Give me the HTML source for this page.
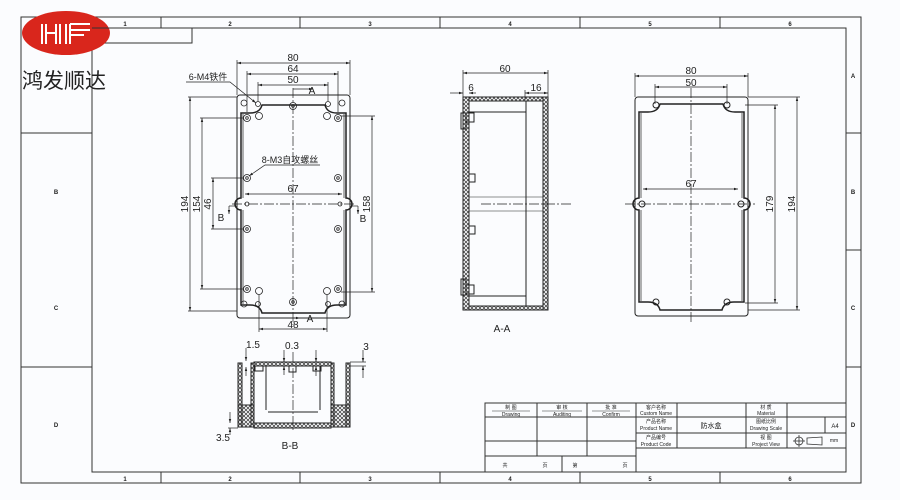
<!DOCTYPE html>
<html><head><meta charset="utf-8"><style>
html,body{margin:0;padding:0;background:#fbfcfe;}
svg{display:block;}
text{font-family:"Liberation Sans","Noto Sans CJK SC",sans-serif;fill:#222;}
</style></head><body>
<svg width="900" height="500" viewBox="0 0 900 500" xmlns="http://www.w3.org/2000/svg">
<defs>
<marker id="ar" viewBox="0 0 10 10" refX="10" refY="5" markerWidth="6" markerHeight="6" orient="auto-start-reverse"><path d="M0,2 L10,5 L0,8 z" fill="#222"/></marker>
<pattern id="xx" width="4" height="4" patternUnits="userSpaceOnUse"><path d="M0,0 L4,4 M4,0 L0,4" stroke="#333" stroke-width="0.7"/></pattern>
</defs>
<rect width="900" height="500" fill="#fbfcfe"/>
<g stroke="#333" fill="none" stroke-width="1">
<!-- frames -->
<rect x="21" y="17" width="840" height="466"/>
<rect x="92" y="28" width="754" height="444"/>
<line x1="92" y1="28" x2="92" y2="17"/>
<line x1="161" y1="17" x2="161" y2="28"/><line x1="300" y1="17" x2="300" y2="28"/><line x1="440" y1="17" x2="440" y2="28"/><line x1="580" y1="17" x2="580" y2="28"/><line x1="720" y1="17" x2="720" y2="28"/>
<line x1="161" y1="472" x2="161" y2="483"/><line x1="300" y1="472" x2="300" y2="483"/><line x1="440" y1="472" x2="440" y2="483"/><line x1="580" y1="472" x2="580" y2="483"/><line x1="720" y1="472" x2="720" y2="483"/>
<line x1="21" y1="133" x2="92" y2="133"/><line x1="21" y1="367" x2="92" y2="367"/><line x1="21" y1="250" x2="21" y2="250"/>
<line x1="846" y1="133" x2="861" y2="133"/><line x1="846" y1="250" x2="861" y2="250"/><line x1="846" y1="367" x2="861" y2="367"/>
<polyline points="92,43 192,43 192,28"/>
<!-- title block -->
<rect x="485" y="403" width="361" height="69"/>
<line x1="485" y1="417" x2="846" y2="417"/>
<line x1="485" y1="441" x2="636" y2="441"/>
<line x1="485" y1="456" x2="636" y2="456"/>
<line x1="636" y1="433" x2="846" y2="433"/>
<line x1="636" y1="448" x2="846" y2="448"/>
<line x1="537" y1="403" x2="537" y2="456"/><line x1="587" y1="403" x2="587" y2="456"/>
<line x1="562" y1="456" x2="562" y2="472"/><line x1="636" y1="403" x2="636" y2="472"/>
<line x1="677" y1="403" x2="677" y2="448"/><line x1="746" y1="403" x2="746" y2="448"/><line x1="787" y1="403" x2="787" y2="448"/><line x1="825" y1="417" x2="825" y2="433"/>
<line x1="492" y1="411" x2="530" y2="411" stroke-width="0.6"/><line x1="542" y1="411" x2="582" y2="411" stroke-width="0.6"/><line x1="592" y1="411" x2="630" y2="411" stroke-width="0.6"/>
</g>
<g font-size="6" text-anchor="middle" font-weight="bold">
<text x="125" y="26">1</text><text x="230" y="26">2</text><text x="370" y="26">3</text><text x="510" y="26">4</text><text x="650" y="26">5</text><text x="790" y="26">6</text>
<text x="125" y="481">1</text><text x="230" y="481">2</text><text x="370" y="481">3</text><text x="510" y="481">4</text><text x="650" y="481">5</text><text x="790" y="481">6</text>
<text x="56" y="194">B</text><text x="56" y="310">C</text><text x="56" y="427">D</text>
<text x="853" y="78">A</text><text x="853" y="194">B</text><text x="853" y="310">C</text><text x="853" y="427">D</text>
</g>
<g font-size="5" text-anchor="middle">
<text x="511" y="409">制 图</text><text x="511" y="416">Drawing</text>
<text x="562" y="409">审 核</text><text x="562" y="416">Auditing</text>
<text x="611" y="409">批 准</text><text x="611" y="416">Confirm</text>
<text x="656" y="409">客户名称</text><text x="656" y="415">Custom Name</text>
<text x="656" y="423">产品名称</text><text x="656" y="430">Product Name</text>
<text x="656" y="439">产品编号</text><text x="656" y="446">Product Code</text>
<text x="766" y="409">材 质</text><text x="766" y="415">Material</text>
<text x="766" y="423">图纸比例</text><text x="766" y="430">Drawing Scale</text>
<text x="766" y="439">视 图</text><text x="766" y="446">Project View</text>
<text x="711" y="428" font-size="7">防水盒</text>
<text x="835" y="428" font-size="6">A4</text>
<text x="834" y="442">mm</text>
<text x="505" y="467">共</text><text x="545" y="467">页</text><text x="575" y="467">第</text><text x="625" y="467">页</text>
</g>
<g stroke="#333" fill="none" stroke-width="0.8"><circle cx="799" cy="441" r="4"/><line x1="793" y1="441" x2="805" y2="441"/><line x1="799" y1="435" x2="799" y2="447"/><path d="M807,438 L822,437 L822,445 L807,444 z"/></g>
<!-- logo -->
<ellipse cx="66" cy="33" rx="44" ry="22" fill="#d9261c"/>
<g stroke="#fff" stroke-width="2" fill="none"><path d="M42,24 v20 M46,24 v20 M46,33 h10 M56,24 v20 M60,24 v20 M66,24 v20 M70,24 v20 M70,24 h20 M70,30 h20 M70,35 h14"/></g>
<line x1="92" y1="28" x2="110" y2="28" stroke="#333"/>
<text x="22" y="88" font-size="21" font-family="Liberation Sans,'Noto Sans CJK SC',sans-serif">鸿发顺达</text>

<!-- FRONT VIEW -->
<g stroke="#222" fill="none" stroke-width="1">
<rect x="237" y="95" width="113" height="223" rx="3"/>
<path d="M241,113 L241,198 a6,6 0 0 0 0,12 L241,305 L250,305 q10,0 12,8 L325,313 q2,-8 12,-8 L346,305 L346,210 a6,6 0 0 0 0,-12 L346,113 L337,113 q-10,0 -12,-8 L262,105 q-2,8 -12,8 z" stroke-width="1.5"/>
<path d="M243,114 L243,198 M344,114 L344,198 M243,210 L243,304 M344,210 L344,304" stroke-width="0.7"/>
</g>
<g stroke="#222" fill="none" stroke-width="0.8">
<circle cx="293" cy="106" r="3.5"/><circle cx="293" cy="106" r="1.3"/>
<circle cx="293" cy="302" r="3.5"/><circle cx="293" cy="302" r="1.3"/>
<circle cx="247" cy="118" r="3.5"/><circle cx="338" cy="118" r="3.5"/><circle cx="247" cy="178" r="3.5"/><circle cx="338" cy="178" r="3.5"/>
<circle cx="247" cy="229" r="3.5"/><circle cx="338" cy="229" r="3.5"/><circle cx="247" cy="289" r="3.5"/><circle cx="338" cy="289" r="3.5"/>
<circle cx="247" cy="118" r="1.3"/><circle cx="338" cy="118" r="1.3"/><circle cx="247" cy="178" r="1.3"/><circle cx="338" cy="178" r="1.3"/>
<circle cx="247" cy="229" r="1.3"/><circle cx="338" cy="229" r="1.3"/><circle cx="247" cy="289" r="1.3"/><circle cx="338" cy="289" r="1.3"/>
<circle cx="259" cy="116" r="3.5"/><circle cx="327" cy="116" r="3.5"/><circle cx="259" cy="291" r="3.5"/><circle cx="327" cy="291" r="3.5"/>
<circle cx="244" cy="103" r="3"/><circle cx="342" cy="103" r="3"/><circle cx="244" cy="304" r="3"/><circle cx="342" cy="304" r="3"/>
<circle cx="258" cy="104" r="2.5"/><circle cx="328" cy="104" r="2.5"/><circle cx="258" cy="304" r="2.5"/><circle cx="328" cy="304" r="2.5"/>
<circle cx="247" cy="204" r="2"/><circle cx="340" cy="204" r="2"/>
</g>
<g stroke="#222" stroke-width="0.7" fill="none" stroke-dasharray="10,2,2,2">
<line x1="293" y1="88" x2="293" y2="325"/><line x1="232" y1="204" x2="355" y2="204"/>
<line x1="481" y1="204" x2="572" y2="204"/>
<line x1="691" y1="88" x2="691" y2="322"/><line x1="625" y1="204" x2="755" y2="204"/>
<line x1="293" y1="352" x2="293" y2="432"/>
</g>
<g stroke="#222" stroke-width="0.7" fill="none">
<!-- front dims -->
<line x1="237" y1="63" x2="350" y2="63" marker-start="url(#ar)" marker-end="url(#ar)"/>
<line x1="247" y1="74" x2="338" y2="74" marker-start="url(#ar)" marker-end="url(#ar)"/>
<line x1="258" y1="85" x2="328" y2="85" marker-start="url(#ar)" marker-end="url(#ar)"/>
<line x1="237" y1="60" x2="237" y2="95"/><line x1="350" y1="60" x2="350" y2="95"/>
<line x1="247" y1="71" x2="247" y2="112"/><line x1="338" y1="71" x2="338" y2="112"/>
<line x1="258" y1="82" x2="258" y2="101"/><line x1="328" y1="82" x2="328" y2="101"/>
<line x1="293" y1="89" x2="313" y2="89" marker-end="url(#ar)"/>
<line x1="293" y1="318" x2="300" y2="318" marker-end="url(#ar)"/>
<line x1="190" y1="97" x2="190" y2="311" marker-start="url(#ar)" marker-end="url(#ar)"/>
<line x1="188" y1="97" x2="237" y2="97"/><line x1="188" y1="311" x2="237" y2="311"/>
<line x1="202" y1="118" x2="202" y2="289" marker-start="url(#ar)" marker-end="url(#ar)"/>
<line x1="200" y1="118" x2="244" y2="118"/><line x1="200" y1="289" x2="244" y2="289"/>
<line x1="213" y1="178" x2="213" y2="229" marker-start="url(#ar)" marker-end="url(#ar)"/>
<line x1="211" y1="178" x2="244" y2="178"/><line x1="211" y1="229" x2="244" y2="229"/>
<line x1="372" y1="116" x2="372" y2="292" marker-start="url(#ar)" marker-end="url(#ar)"/>
<line x1="341" y1="116" x2="375" y2="116"/><line x1="341" y1="292" x2="375" y2="292"/>
<line x1="245" y1="194" x2="342" y2="194" marker-start="url(#ar)" marker-end="url(#ar)"/>
<line x1="259" y1="329" x2="327" y2="329" marker-start="url(#ar)" marker-end="url(#ar)"/>
<line x1="259" y1="295" x2="259" y2="332"/><line x1="327" y1="295" x2="327" y2="332"/>
<line x1="229" y1="206" x2="229" y2="214" marker-end="url(#ar)"/><line x1="229" y1="206" x2="236" y2="206"/>
<line x1="358" y1="206" x2="358" y2="214" marker-end="url(#ar)"/><line x1="351" y1="206" x2="358" y2="206"/>
<polyline points="186,82 230,82 256,103" marker-end="url(#ar)"/>
<polyline points="320,165 265,165 249,176" marker-end="url(#ar)"/>
</g>
<g font-size="10" text-anchor="middle" font-family="Liberation Sans,sans-serif">
<text x="293" y="61">80</text><text x="293" y="72">64</text><text x="293" y="83">50</text>
<text x="312" y="94">A</text><text x="310" y="322">A</text>
<text x="293" y="192">67</text><text x="293" y="328">48</text>
<text x="221" y="221">B</text><text x="363" y="222">B</text>
<text x="208" y="80" font-size="9">6-M4铁件</text>
<text x="290" y="163" font-size="9">8-M3自攻螺丝</text>
<text transform="translate(188,204) rotate(-90)">194</text>
<text transform="translate(200,204) rotate(-90)">154</text>
<text transform="translate(211,204) rotate(-90)">46</text>
<text transform="translate(370,204) rotate(-90)">158</text>
</g>

<!-- SIDE VIEW A-A -->
<g stroke="#222" fill="none" stroke-width="1">
<rect x="463" y="97" width="6" height="213" fill="url(#xx)"/>
<rect x="543" y="97" width="5" height="213" fill="url(#xx)"/>
<rect x="469" y="97" width="74" height="4" fill="url(#xx)"/>
<rect x="469" y="306" width="74" height="4" fill="url(#xx)"/>
<line x1="526" y1="101" x2="526" y2="306"/>
<line x1="469" y1="112" x2="526" y2="112"/><line x1="469" y1="296" x2="526" y2="296"/>
<line x1="469" y1="197" x2="543" y2="197" stroke-width="0.6"/><line x1="469" y1="211" x2="543" y2="211" stroke-width="0.6"/>
<rect x="461" y="113" width="5" height="16"/><rect x="466" y="113" width="8" height="9"/>
<rect x="461" y="279" width="5" height="16"/><rect x="466" y="285" width="8" height="9"/>
<rect x="469" y="174" width="6" height="8"/><rect x="469" y="226" width="6" height="8"/>
</g>
<g stroke="#222" stroke-width="0.7" fill="none">
<line x1="463" y1="73" x2="548" y2="73" marker-start="url(#ar)" marker-end="url(#ar)"/>
<line x1="463" y1="70" x2="463" y2="97"/><line x1="548" y1="70" x2="548" y2="97"/>
<line x1="450" y1="93" x2="463" y2="93" marker-end="url(#ar)"/><line x1="476" y1="93" x2="469" y2="93" marker-end="url(#ar)"/>
<line x1="525" y1="93" x2="548" y2="93" marker-start="url(#ar)" marker-end="url(#ar)"/><line x1="525" y1="90" x2="525" y2="100"/>
</g>
<g font-size="10" text-anchor="middle">
<text x="505" y="72">60</text><text x="471" y="91">6</text><text x="536" y="91">16</text>
<text x="502" y="332">A-A</text>
</g>

<!-- RIGHT VIEW -->
<g stroke="#222" fill="none" stroke-width="1">
<rect x="635" y="97" width="113" height="219" rx="3"/>
<path d="M639,112 L639,198 a6,6 0 0 0 0,12 L639,302 L648,302 q10,0 12,8 L722,310 q2,-8 12,-8 L744,302 L744,210 a6,6 0 0 0 0,-12 L744,112 L735,112 q-10,0 -12,-8 L660,104 q-2,8 -12,8 z" stroke-width="1.5"/>
<path d="M641,113 L641,198 M742,113 L742,198 M641,210 L641,301 M742,210 L742,301" stroke-width="0.7"/>
<circle cx="656" cy="105" r="3"/><circle cx="727" cy="105" r="3"/><circle cx="656" cy="302" r="3"/><circle cx="727" cy="302" r="3"/>
<circle cx="642" cy="204" r="3"/><circle cx="741" cy="204" r="3"/>
</g>
<g stroke="#222" stroke-width="0.7" fill="none">
<line x1="635" y1="76" x2="748" y2="76" marker-start="url(#ar)" marker-end="url(#ar)"/>
<line x1="635" y1="73" x2="635" y2="97"/><line x1="748" y1="73" x2="748" y2="97"/>
<line x1="655" y1="87" x2="727" y2="87" marker-start="url(#ar)" marker-end="url(#ar)"/>
<line x1="655" y1="84" x2="655" y2="104"/><line x1="727" y1="84" x2="727" y2="104"/>
<line x1="643" y1="189" x2="738" y2="189" marker-start="url(#ar)" marker-end="url(#ar)"/>
<line x1="775" y1="105" x2="775" y2="303" marker-start="url(#ar)" marker-end="url(#ar)"/>
<line x1="745" y1="105" x2="778" y2="105"/><line x1="745" y1="303" x2="778" y2="303"/>
<line x1="797" y1="97" x2="797" y2="310" marker-start="url(#ar)" marker-end="url(#ar)"/>
<line x1="748" y1="97" x2="800" y2="97"/><line x1="748" y1="310" x2="800" y2="310"/>
</g>
<g font-size="10" text-anchor="middle">
<text x="691" y="74">80</text><text x="691" y="86">50</text><text x="691" y="187">67</text>
<text transform="translate(773,204) rotate(-90)">179</text>
<text transform="translate(795,204) rotate(-90)">194</text>
</g>

<!-- SECTION B-B -->
<g stroke="#222" fill="none" stroke-width="1">
<rect x="238" y="363" width="4" height="64" fill="url(#xx)"/>
<rect x="346" y="363" width="4" height="64" fill="url(#xx)"/>
<rect x="251" y="363" width="3" height="64" fill="url(#xx)"/>
<rect x="331" y="363" width="3" height="64" fill="url(#xx)"/>
<rect x="238" y="405" width="16" height="22" fill="url(#xx)"/>
<rect x="331" y="405" width="19" height="22" fill="url(#xx)"/>
<rect x="254" y="423" width="77" height="5" fill="url(#xx)"/>
<rect x="254" y="362" width="77" height="4" fill="url(#xx)"/>
<line x1="266" y1="366" x2="266" y2="410"/><line x1="320" y1="366" x2="320" y2="410"/>
<line x1="268" y1="412" x2="318" y2="412"/>
<rect x="289" y="366" width="7" height="6"/><rect x="313" y="366" width="8" height="5"/><rect x="255" y="366" width="8" height="5"/>
</g>
<g stroke="#222" stroke-width="0.7" fill="none">
<line x1="246" y1="348" x2="246" y2="361" marker-end="url(#ar)"/><line x1="246" y1="376" x2="246" y2="367" marker-end="url(#ar)"/>
<line x1="284" y1="350" x2="284" y2="362" marker-end="url(#ar)"/><line x1="284" y1="375" x2="284" y2="366" marker-end="url(#ar)"/>
<line x1="316" y1="350" x2="316" y2="362" marker-end="url(#ar)"/><line x1="316" y1="376" x2="316" y2="366" marker-end="url(#ar)"/>
<line x1="363" y1="350" x2="363" y2="362" marker-end="url(#ar)"/><line x1="363" y1="378" x2="363" y2="366" marker-end="url(#ar)"/>
<line x1="350" y1="362" x2="366" y2="362"/><line x1="350" y1="366" x2="366" y2="366"/>
<line x1="230" y1="412" x2="230" y2="423" marker-end="url(#ar)"/><line x1="230" y1="435" x2="230" y2="428" marker-end="url(#ar)"/>
<line x1="228" y1="428" x2="238" y2="428"/>
</g>
<g font-size="10" text-anchor="middle">
<text x="253" y="348">1.5</text><text x="292" y="349">0.3</text><text x="366" y="350">3</text><text x="223" y="441">3.5</text>
<text x="290" y="449">B-B</text>
</g>
</svg>
</body></html>
